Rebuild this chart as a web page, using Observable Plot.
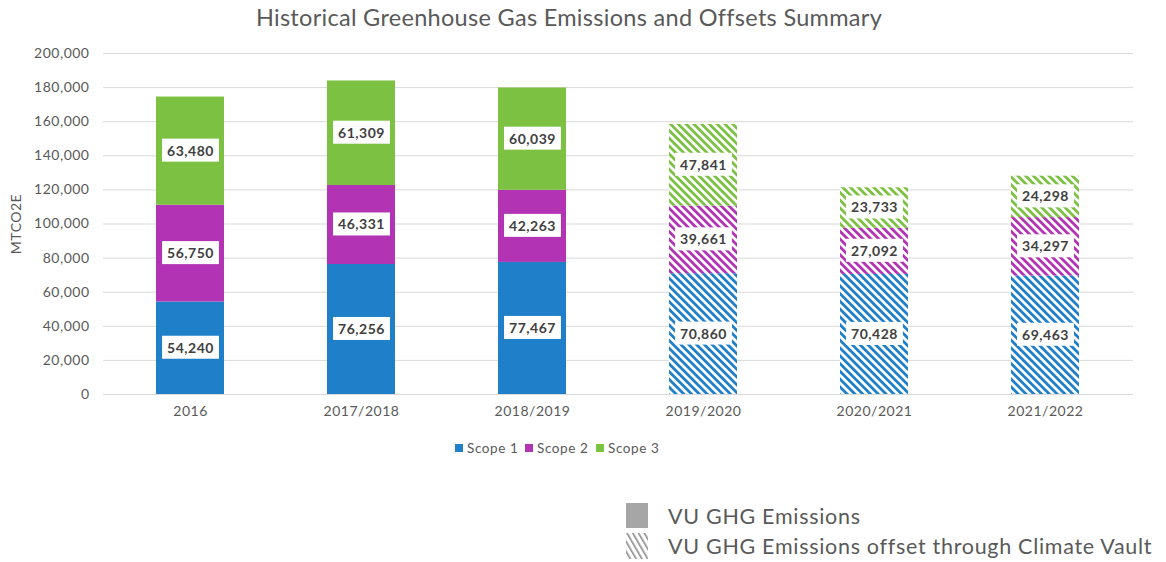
<!DOCTYPE html>
<html><head><meta charset="utf-8">
<script src="https://cdn.jsdelivr.net/npm/d3@7"></script>
<script src="https://cdn.jsdelivr.net/npm/@observablehq/plot@0.6"></script>
<style>
body{margin:0;background:#fff;font-family:Lato,"Open Sans",sans-serif;color:#595959;}
#wrap{position:relative;width:1166px;height:562px;overflow:hidden;}
#title{position:absolute;left:0;top:3px;width:1138px;text-align:center;font-size:23.5px;letter-spacing:0.3px;color:#595959;}
#chart{position:absolute;left:0;top:0;}
.leg1{position:absolute;top:440px;font-size:13.5px;letter-spacing:0.6px;display:flex;align-items:center;}
.sw{display:inline-block;width:8px;height:8px;margin-right:4px;}
.leg2{position:absolute;left:626px;font-size:21.5px;letter-spacing:0.7px;display:flex;align-items:center;color:#595959;}
</style></head>
<body><div id="wrap">
<div id="title">Historical Greenhouse Gas Emissions and Offsets Summary</div>
<div id="chart"></div>
<div id="legend1"></div>
<div id="legend2"></div>
</div>
<script>
const years = ["2016","2017/2018","2018/2019","2019/2020","2020/2021","2021/2022"];
const scopes = ["Scope 1","Scope 2","Scope 3"];
const scope1 = [54240,76256,77467,70860,70428,69463];
const scope2 = [56750,46331,42263,39661,27092,34297];
const scope3 = [63480,61309,60039,47841,23733,24298];
const offsetYears = ["2019/2020","2020/2021","2021/2022"];
const colors = ["#1f7fc8","#b234b4","#7cc142"];
const legend2Labels = ["VU GHG Emissions","VU GHG Emissions offset through Climate Vault"];

const series = [scope1, scope2, scope3];
const data = [];
years.forEach((yr, i) => scopes.forEach((s, j) => data.push({
  year: yr, scope: s, value: series[j][i], offset: offsetYears.includes(yr)
})));
const keys = [...scopes, ...scopes.map(s => s + " offset")];
const ranges = [...colors, ...scopes.map((s, j) => `url(#hatch${j})`)];

const plot = Plot.plot({
  width: 1166, height: 430,
  marginTop: 53, marginBottom: 36, marginLeft: 103, marginRight: 33,
  style: {fontFamily: "Lato, 'Open Sans', sans-serif", color: "#595959", background: "transparent", letterSpacing: "0.5px"},
  x: {domain: years, paddingInner: 0.6, paddingOuter: 0.3, label: null},
  y: {domain: [0, 200000], ticks: d3.range(0, 200001, 20000), label: null, tickFormat: d3.format(",")},
  color: {domain: keys, range: ranges},
  marks: [
    Plot.gridY(d3.range(0, 200001, 20000), {stroke: "#d9d9d9", strokeOpacity: 1}),
    Plot.axisY({tickSize: 0, tickPadding: 14, fontSize: 14, ticks: d3.range(0, 200001, 20000), tickFormat: d3.format(","),
      label: "MTCO2E", labelAnchor: "center", labelArrow: "none", labelOffset: 92}),
    Plot.axisX({tickSize: 0, tickPadding: 12, fontSize: 14, label: null}),
    Plot.barY(data, Plot.stackY({x: "year", y: "value", z: "scope", fill: d => d.offset ? d.scope + " offset" : d.scope})),
    Plot.text(data, Plot.stackY({x: "year", y: "value", z: "scope", text: d => d3.format(",")(d.value),
      fontWeight: "bold", fontSize: 14, fill: "#404040"}))
  ]
});
document.getElementById("chart").appendChild(plot);

// hatch patterns
const svg = d3.select(plot);
const defs = svg.insert("defs", ":first-child");
colors.forEach((c, j) => {
  const p = defs.append("pattern").attr("id", `hatch${j}`).attr("patternUnits", "userSpaceOnUse")
    .attr("width", 5.5).attr("height", 5.5).attr("patternTransform", "rotate(-45)");
  p.append("rect").attr("width", 5.5).attr("height", 5.5).attr("fill", "#fff");
  p.append("rect").attr("width", 2.8).attr("height", 5.5).attr("fill", c);
});
// white boxes behind value labels
svg.selectAll('g[aria-label="text"] text').each(function() {
  const b = this.getBBox();
  const t = this.getAttribute("transform");
  d3.select(this.parentNode).insert("rect", () => this)
    .attr("x", b.x - 5).attr("y", b.y - 3).attr("width", b.width + 10).attr("height", b.height + 6)
    .attr("fill", "#fff").attr("transform", t);
});

// scope legend
const l1 = d3.select("#legend1");
const lefts = [455, 525, 596];
scopes.forEach((s, j) => {
  const d = l1.append("div").attr("class", "leg1").style("left", lefts[j] + "px");
  d.append("span").attr("class", "sw").style("background", colors[j]);
  d.append("span").text(s);
});
// emissions legend
const l2 = d3.select("#legend2");
legend2Labels.forEach((s, j) => {
  const d = l2.append("div").attr("class", "leg2").style("top", (j ? 533 : 503) + "px");
  const ic = d.append("svg").attr("width", 24).attr("height", 26).style("margin-right", "18px");
  if (j === 0) ic.append("rect").attr("width", 22).attr("height", 25).attr("fill", "#a6a6a6");
  else {
    const dd = ic.append("defs").append("pattern").attr("id", "hatchGrey").attr("patternUnits", "userSpaceOnUse")
      .attr("width", 5).attr("height", 5).attr("patternTransform", "rotate(-30)");
    dd.append("rect").attr("width", 1.6).attr("height", 5).attr("fill", "#8c8c8c");
    ic.append("rect").attr("width", 22).attr("height", 26).attr("fill", "url(#hatchGrey)");
  }
  d.append("span").text(s);
});
</script>
</body></html>
